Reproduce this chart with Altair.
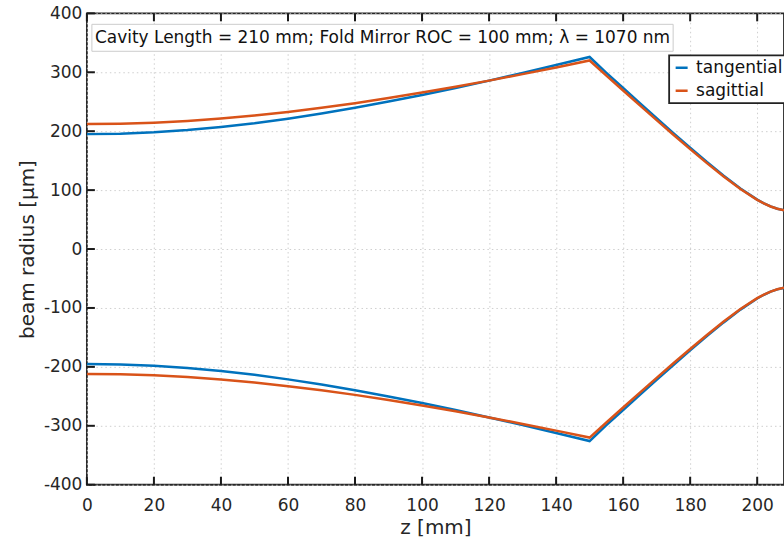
import altair as alt
import pandas as pd

# z positions [mm]
z_arm1 = [0, 10, 20, 30, 40, 50, 60, 70, 80, 90, 100, 110, 120, 130, 140, 150]
z_arm2 = [155, 160, 165, 170, 175, 180, 185, 190, 195, 200, 202, 204, 206, 208, 210]

# beam radius [um], upper branch (lower branch is the mirror image)
tan_arm1 = [195.0, 195.8, 198.1, 201.9, 207.1, 213.5, 221.2, 230.0, 239.6, 250.2,
            261.4, 273.3, 285.8, 298.8, 312.2, 325.9]
tan_arm2 = [299.0, 273.2, 247.4, 222.0, 196.8, 172.0, 147.7, 124.5, 102.8, 83.9,
            77.6, 72.4, 68.4, 65.9, 65.0]
sag_arm1 = [212.0, 212.6, 214.4, 217.3, 221.4, 226.5, 232.7, 239.7, 247.5, 256.2,
            265.5, 275.4, 285.8, 296.8, 308.2, 320.0]
sag_arm2 = [294.4, 269.0, 243.8, 218.7, 193.9, 169.6, 145.8, 123.0, 101.8, 83.4,
            77.3, 72.2, 68.3, 65.8, 65.0]

x_ticks = [0, 20, 40, 60, 80, 100, 120, 140, 160, 180, 200]
y_ticks = [-400, -300, -200, -100, 0, 100, 200, 300, 400]

series_names = ["tangential", "sagittial"]
colors = ["#0072BD", "#D95319"]
annotation = "Cavity Length = 210 mm; Fold Mirror ROC = 100 mm; \u03bb = 1070 nm"

rows = []
z_all = z_arm1 + z_arm2
for name, vals in [("tangential", tan_arm1 + tan_arm2), ("sagittial", sag_arm1 + sag_arm2)]:
    for i, (z, r) in enumerate(zip(z_all, vals)):
        rows.append({"series": name, "branch": name + "_up", "z": z, "r": r, "k": i})
        rows.append({"series": name, "branch": name + "_low", "z": z, "r": -r, "k": i})
df = pd.DataFrame(rows)

TXT = "#262626"
FONT = "DejaVu Sans"
H = 472
TL = 8  # inward tick length in px

xscale = alt.Scale(domain=[0, 208], nice=False)
yscale = alt.Scale(domain=[-400, 400], nice=False)

bottom_axis = alt.Axis(
    orient="bottom", values=x_ticks, ticks=False, tickSize=0,
    domain=False, labelPadding=13,
    labelFontSize=17, labelColor=TXT, labelFont=FONT, labelFlush=False,
    labelExpr="'' + datum.value",
    title="z [mm]", titleFontSize=20, titleFont=FONT, titleColor=TXT,
    titleFontWeight="normal", titlePadding=4,
    grid=True, gridColor="#cfcfcf", gridDash=[1.5, 3], gridWidth=1,
)
left_axis = alt.Axis(
    orient="left", values=y_ticks, ticks=False, tickSize=0,
    domain=False, labelPadding=5,
    labelFontSize=17, labelColor=TXT, labelFont=FONT, labelFlush=False,
    labelExpr="'' + datum.value",
    title="beam radius [\u03bcm]", titleFontSize=20, titleFont=FONT, titleColor=TXT,
    titleFontWeight="normal", titlePadding=6,
    grid=True, gridColor="#cfcfcf", gridDash=[1.5, 3], gridWidth=1,
)

base = alt.Chart(df)

lines = base.mark_line(clip=True, strokeWidth=2.5).encode(
    x=alt.X("z:Q", scale=xscale, axis=bottom_axis),
    y=alt.Y("r:Q", scale=yscale, axis=left_axis),
    color=alt.Color(
        "series:N",
        scale=alt.Scale(domain=series_names, range=colors),
        sort=series_names,
        legend=alt.Legend(
            title=None, orient="none", legendX=583, legendY=42,
            symbolType="stroke", symbolSize=144, symbolStrokeWidth=2.5,
            labelFontSize=17, labelFont=FONT, labelColor="#111111",
            strokeColor="#222222", fillColor="white", padding=4,
            rowPadding=5, labelOffset=6,
        ),
    ),
    detail="branch:N",
    order="k:Q",
)

xt_df = pd.DataFrame({"tx": x_ticks})
yt_df = pd.DataFrame({"ty": y_ticks})

bottom_ticks = alt.Chart(xt_df).mark_rule(color="#1a1a1a", strokeWidth=2).encode(
    x=alt.X("tx:Q", scale=xscale, axis=bottom_axis),
    y=alt.value(H - TL), y2=alt.value(H),
)
top_ticks = alt.Chart(xt_df).mark_rule(color="#1a1a1a", strokeWidth=2).encode(
    x=alt.X("tx:Q", scale=xscale, axis=bottom_axis),
    y=alt.value(0), y2=alt.value(TL),
)
left_ticks = alt.Chart(yt_df).mark_rule(color="#1a1a1a", strokeWidth=2).encode(
    y=alt.Y("ty:Q", scale=yscale, axis=left_axis),
    x=alt.value(0), x2=alt.value(TL),
)

ann_df = pd.DataFrame({"t": [annotation]})
ann_box = alt.Chart(ann_df).mark_rect(
    fill="white", stroke="#cccccc", strokeWidth=1
).encode(
    x=alt.value(5), x2=alt.value(587), y=alt.value(11), y2=alt.value(38)
)
ann_text = alt.Chart(ann_df).mark_text(
    align="left", baseline="middle", fontSize=17, font=FONT, color="#111111"
).encode(
    x=alt.value(8), y=alt.value(25), text="t:N"
)

chart = alt.layer(
    lines, ann_box, ann_text, bottom_ticks, top_ticks, left_ticks
).properties(
    width=698, height=H,
    autosize=alt.AutoSizeParams(type="none"),
    padding={"left": 87, "top": 13, "right": 0, "bottom": 60},
    background="white",
).configure_view(
    stroke=TXT, strokeWidth=1.8
).configure_legend(
    strokeWidth=1.8
)

chart.save("out.html", embed_options={"renderer": "svg", "actions": False})
